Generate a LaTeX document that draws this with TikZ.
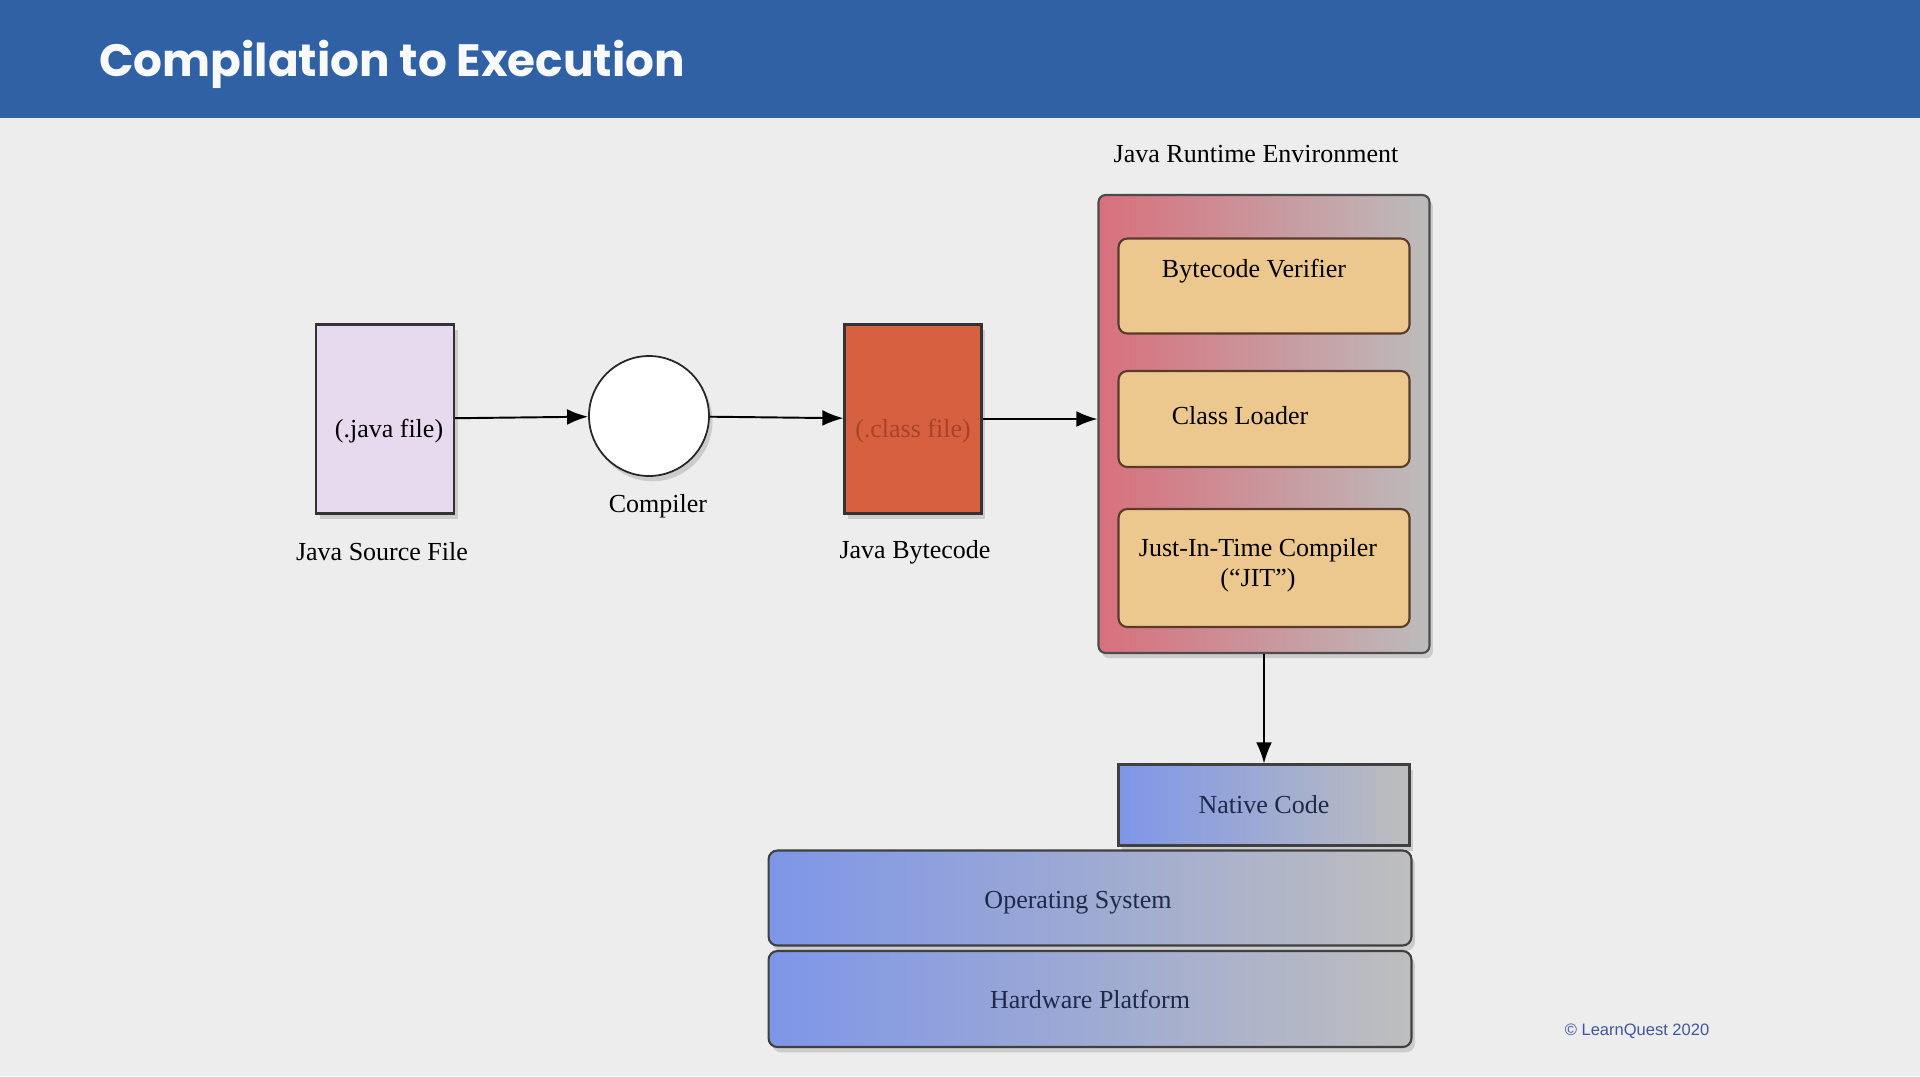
\documentclass[tikz,border=0pt]{standalone}
\usepackage{fontspec}
\setmainfont{Liberation Serif}
\newfontfamily\titlefont{Poppins}
\newfontfamily\notefont{Liberation Sans}
\usetikzlibrary{arrows.meta, shadows}

\definecolor{slidebg}{HTML}{EDEDED}
\definecolor{headblue}{HTML}{3161A5}
\definecolor{srcfill}{HTML}{E8DAEE}
\definecolor{clsfill}{HTML}{D6603F}
\definecolor{clstext}{HTML}{A8432A}
\definecolor{jrered}{HTML}{D8707C}
\definecolor{jregray}{HTML}{BCBCBC}
\definecolor{infill}{HTML}{EDC88E}
\definecolor{inborder}{HTML}{5A3A2A}
\definecolor{stackblue}{HTML}{7E96E8}
\definecolor{stackgray}{HTML}{BEBEBE}
\definecolor{stacktext}{HTML}{1E2A4A}
\definecolor{noteblue}{HTML}{3F56A0}

\tikzset{
	shade/.style={drop shadow={shadow xshift=2pt, shadow yshift=-3pt, opacity=0.3}},
	srcbox/.style={draw=black!80, line width=1.2pt, fill=srcfill, inner sep=0pt, minimum width=2.76cm, minimum height=3.78cm, shade},
	clsbox/.style={draw=black!80, line width=1.2pt, fill=clsfill, inner sep=0pt, minimum width=2.74cm, minimum height=3.78cm, shade},
	compcirc/.style={circle, draw=black!85, line width=1pt, fill=white, inner sep=0pt, minimum size=2.4cm, shade},
	jrebox/.style={draw=black!70, line width=1.2pt, rounded corners=4pt, left color=jrered, right color=jregray, minimum width=6.62cm, minimum height=9.16cm, shade},
	inbox/.style={draw=inborder, line width=1.2pt, rounded corners=5pt, fill=infill, inner sep=0pt, minimum width=5.82cm},
	stackbox/.style={draw=black!75, line width=1.2pt, rounded corners=5pt, left color=stackblue, right color=stackgray, text=stacktext, inner sep=0pt, minimum width=12.86cm, minimum height=1.9cm, shade},
	flow/.style={line width=1.1pt, -{Latex[length=12pt, width=9pt]}},
	notetext/.style={font=\notefont\fontsize{9.4}{11}\selectfont, text=noteblue}
}

\begin{document}
\begin{tikzpicture}[x=0.02cm, y=-0.02cm, font=\fontsize{14.8}{17}\selectfont]
	\useasboundingbox (0,0) rectangle (1920,1076);
	\fill[slidebg] (0,0) rectangle (1920,1076);
	\fill[headblue] (0,0) rectangle (1920,118);
	\node[anchor=west, text=white!96!headblue, font=\titlefont\bfseries\fontsize{25.8}{30}\selectfont](title) at (93,64){Compilation to Execution};

	\node[srcbox](src) at (385,419){};
	\node[compcirc](comp) at (649,416){};
	\node[clsbox](cls) at (913,419){};
	\node[jrebox](jre) at (1264,424){};
	\node[inbox, minimum height=1.9cm](bv) at (1264,286){};
	\node[inbox, minimum height=1.92cm](cl) at (1264,419){};
	\node[inbox, minimum height=2.36cm, align=center](jit) at (1264,568){};
	\node[stackbox, minimum width=5.82cm, minimum height=1.62cm, rounded corners=0pt](nc) at (1264,805){Native Code};
	\node[stackbox](os) at (1090,898){};
	\node[stackbox, minimum height=1.92cm](hw) at (1090,999){Hardware Platform};

	\draw[flow] (src)--(comp);
	\draw[flow] (comp)--(cls);
	\draw[flow] (cls.east)--(cls.east -| jre.west);
	\draw[flow] (jre)--(nc);

	% texts placed where the slide prints them
	\node(srctext) at (389,431){(.java file)};
	\node[text=clstext](clstext) at (913,431){(.class file)};
	\node(srclabel) at (382,552){Java Source File};
	\node(complabel) at (658,506){Compiler};
	\node(clslabel) at (915,552){Java Bytecode};
	\node(jrelabel) at (1256,154){Java Runtime Environment};
	\node(bvtext) at (1254,271){Bytecode Verifier};
	\node(cltext) at (1240,416){Class Loader};
	\node[align=center](jittext) at (1258,565){Just-In-Time Compiler\\(“JIT”)};
	\node[text=stacktext](ostext) at (1078,903){Operating System};
	\node[notetext](copy) at (1637,1031){© LearnQuest 2020};
\end{tikzpicture}
\end{document}
